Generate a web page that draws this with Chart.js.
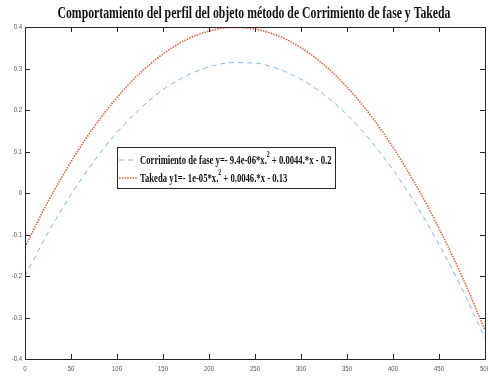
<!DOCTYPE html>
<html>
<head>
<meta charset="utf-8">
<script src="https://cdn.jsdelivr.net/npm/chart.js@4.4.0/dist/chart.umd.min.js"></script>
<style>
  html, body { margin: 0; padding: 0; background: #fff; }
  #wrap { width: 488px; height: 379px; }
</style>
</head>
<body>
<div id="wrap"><canvas id="myChart" width="488" height="379"></canvas></div>
<script>
// Datos
const xValues = [0, 25, 50, 75, 100, 125, 150, 175, 200, 225, 250, 275, 300, 325, 350, 375, 400, 425, 450, 475, 500];
const corrimiento = [-0.2, -0.096, -0.004, 0.077, 0.146, 0.203, 0.249, 0.282, 0.304, 0.314, 0.313, 0.299, 0.274, 0.237, 0.189, 0.128, 0.056, -0.028, -0.124, -0.231, -0.35];
const takeda = [-0.13, -0.021, 0.075, 0.159, 0.23, 0.289, 0.335, 0.369, 0.39, 0.399, 0.395, 0.379, 0.35, 0.309, 0.255, 0.189, 0.11, 0.019, -0.085, -0.201, -0.33];
const xTicks = [0, 50, 100, 150, 200, 250, 300, 350, 400, 450, 500];
const yTicks = [-0.4, -0.3, -0.2, -0.1, 0, 0.1, 0.2, 0.3, 0.4];
const titulo = 'Comportamiento del perfil del objeto método de Corrimiento de fase y Takeda';
const leyenda1 = ['Corrimiento de fase y=- 9.4e-06*x.', '2', ' + 0.0044.*x - 0.2'];
const leyenda2 = ['Takeda y1=- 1e-05*x.', '2', ' + 0.0046.*x - 0.13'];

const azul = '#7db8ea';
const rojo = '#e8623a';

// texto estrechado horizontalmente (como Arial Narrow / Times condensada)
function drawNarrow(ctx, text, x, y, sx, align) {
  const w = ctx.measureText(text).width * sx;
  let x0 = x;
  if (align === 'center') x0 = x - w / 2;
  if (align === 'right') x0 = x - w;
  ctx.save();
  ctx.translate(x0, y);
  ctx.scale(sx, 1);
  ctx.textAlign = 'left';
  ctx.fillText(text, 0, 0);
  ctx.restore();
  return w;
}

function drawLegendText(ctx, parts, x, y, sx) {
  ctx.font = 'bold 12px "Liberation Serif"';
  let w = drawNarrow(ctx, parts[0], x, y, sx, 'left');
  ctx.font = 'bold 8px "Liberation Serif"';
  w += drawNarrow(ctx, parts[1], x + w, y - 6, sx, 'left');
  ctx.font = 'bold 12px "Liberation Serif"';
  drawNarrow(ctx, parts[2], x + w, y, sx, 'left');
}

const estiloMatlab = {
  id: 'estiloMatlab',
  afterDraw(chart) {
    const ctx = chart.ctx;
    const a = chart.chartArea;
    const sx = chart.scales.x, sy = chart.scales.y;
    ctx.save();
    // caja
    ctx.strokeStyle = '#262626';
    ctx.lineWidth = 1;
    ctx.strokeRect(a.left + 0.5, a.top + 0.5, a.right - a.left, a.bottom - a.top);
    // marcas hacia dentro
    ctx.beginPath();
    xTicks.forEach(v => {
      const px = Math.round(sx.getPixelForValue(v)) + 0.5;
      ctx.moveTo(px, a.bottom); ctx.lineTo(px, a.bottom - 5);
      ctx.moveTo(px, a.top); ctx.lineTo(px, a.top + 5);
    });
    yTicks.forEach(v => {
      const py = Math.round(sy.getPixelForValue(v)) + 0.5;
      ctx.moveTo(a.left, py); ctx.lineTo(a.left + 5, py);
      ctx.moveTo(a.right, py); ctx.lineTo(a.right - 5, py);
    });
    ctx.stroke();
    // etiquetas
    ctx.fillStyle = '#555';
    ctx.font = '8px "Liberation Sans"';
    ctx.textBaseline = 'middle';
    xTicks.forEach(v => {
      drawNarrow(ctx, String(v), sx.getPixelForValue(v), a.bottom + 10, 0.75, 'center');
    });
    yTicks.forEach(v => {
      drawNarrow(ctx, String(v), a.left - 3, sy.getPixelForValue(v), 0.75, 'right');
    });
    // titulo
    ctx.fillStyle = '#111';
    ctx.font = 'bold 16px "Liberation Serif"';
    ctx.textBaseline = 'alphabetic';
    const tw = ctx.measureText(titulo).width;
    drawNarrow(ctx, titulo, 254, 18, 393 / tw, 'center');
    // leyenda
    const lx = 117, ly = 147, lw = 218, lh = 41;
    ctx.fillStyle = '#fff';
    ctx.fillRect(lx, ly, lw, lh);
    ctx.strokeStyle = '#262626';
    ctx.strokeRect(lx + 0.5, ly + 0.5, lw, lh);
    const ds = chart.data.datasets;
    const filas = [[leyenda1, 160], [leyenda2, 178]];
    filas.forEach((f, i) => {
      ctx.beginPath();
      ctx.strokeStyle = ds[i].borderColor;
      ctx.lineWidth = ds[i].borderWidth;
      ctx.setLineDash(ds[i].borderDash);
      ctx.moveTo(lx + 2, f[1]);
      ctx.lineTo(lx + 21, f[1]);
      ctx.stroke();
      ctx.setLineDash([]);
      ctx.fillStyle = '#111';
      ctx.textBaseline = 'middle';
      drawLegendText(ctx, f[0], lx + 23, f[1] + 1, 0.72);
    });
    ctx.restore();
  }
};

const ctx = document.getElementById('myChart').getContext('2d');
const myChart = new Chart(ctx, {
  type: 'line',
  data: {
    datasets: [
      {
        label: 'Corrimiento de fase',
        data: xValues.map((x, i) => ({ x: x, y: corrimiento[i] })),
        borderColor: azul,
        borderWidth: 1,
        borderDash: [5, 4],
        pointRadius: 0,
        cubicInterpolationMode: 'monotone',
        fill: false
      },
      {
        label: 'Takeda',
        data: xValues.map((x, i) => ({ x: x, y: takeda[i] })),
        borderColor: rojo,
        borderWidth: 1.6,
        borderDash: [1.5, 1.2],
        pointRadius: 0,
        cubicInterpolationMode: 'monotone',
        fill: false
      }
    ]
  },
  options: {
    responsive: false,
    animation: false,
    layout: { padding: { left: 25, right: 3, top: 27, bottom: 20 } },
    plugins: { legend: { display: false }, title: { display: false }, tooltip: { enabled: false } },
    scales: {
      x: { type: 'linear', min: 0, max: 500, display: false },
      y: { type: 'linear', min: -0.4, max: 0.4, display: false }
    }
  },
  plugins: [estiloMatlab]
});
</script>
</body>
</html>
